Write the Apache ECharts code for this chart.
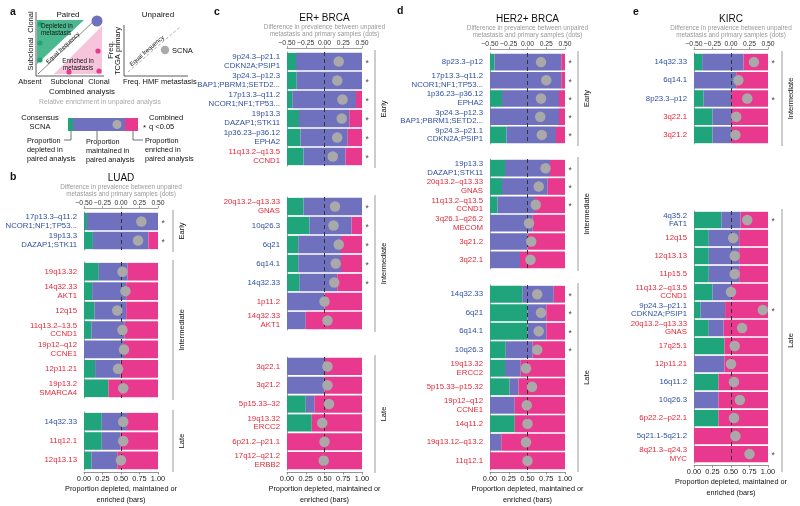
<!DOCTYPE html>
<html><head><meta charset="utf-8">
<script src="https://cdn.jsdelivr.net/npm/echarts@6/dist/echarts.min.js"></script>
<style>html,body{margin:0;padding:0;background:#fff}#c{width:800px;height:506px}</style>
</head><body><div id="c"></div>
<script>
// ---------------- DATA ----------------
const bottomTickLabels = ['0.00','0.25','0.50','0.75','1.00'];
const topTickLabels = ['\u22120.50','\u22120.25','0.00','0.25','0.50'];

// b: LUAD
const luadLabels = ['17p13.3\u2013q11.2\nNCOR1;NF1;TP53...','19p13.3\nDAZAP1;STK11','19q13.32','14q32.33\nAKT1','12q15','11q13.2\u201313.5\nCCND1','19p12\u2013q12\nCCNE1','12p11.21','19p13.2\nSMARCA4','14q32.33','11q12.1','12q13.13'];
const luadColors = ['b','b','r','r','r','r','r','r','r','b','r','r'];
const luadGroups = ['Early','Early','Intermediate','Intermediate','Intermediate','Intermediate','Intermediate','Intermediate','Intermediate','Late','Late','Late'];
const luadDepleted = [0.04,0.12,0.20,0.11,0.14,0.10,0.00,0.15,0.33,0.24,0.24,0.10];
const luadMaintained = [0.96,0.75,0.39,0.46,0.43,0.45,0.54,0.34,0.00,0.34,0.25,0.35];
const luadEnriched = [0.00,0.13,0.41,0.43,0.43,0.45,0.46,0.51,0.67,0.42,0.51,0.55];
const luadDiff = [0.275,0.23,0.02,0.06,-0.05,0.02,0.04,-0.04,0.03,0.03,0.03,0.00];
const luadSig = [1,1,0,0,0,0,0,0,0,0,0,0];

// c: ER+ BRCA
const erLabels = ['9p24.3\u2013p21.1\nCDKN2A;PSIP1','3p24.3\u2013p12.3\nBAP1;PBRM1;SETD2...','17p13.3\u2013q11.2\nNCOR1;NF1;TP53...','19p13.3\nDAZAP1;STK11','1p36.23\u2013p36.12\nEPHA2','11q13.2\u2013q13.5\nCCND1','20q13.2\u2013q13.33\nGNAS','10q26.3','6q21','6q14.1','14q32.33','1p11.2','14q32.33\nAKT1','3q22.1','3q21.2','5p15.33\u201332','19q13.32\nERCC2','6p21.2\u2013p21.1','17q12\u2013q21.2\nERBB2'];
const erColors = ['b','b','b','b','b','r','r','b','b','b','b','r','r','r','r','r','r','r','r'];
const erGroups = ['Early','Early','Early','Early','Early','Early','Intermediate','Intermediate','Intermediate','Intermediate','Intermediate','Intermediate','Intermediate','Late','Late','Late','Late','Late','Late'];
const erDepleted = [0.12,0.13,0.07,0.16,0.18,0.22,0.22,0.30,0.15,0.15,0.17,0.00,0.00,0.00,0.00,0.25,0.33,0.00,0.00];
const erMaintained = [0.88,0.87,0.85,0.67,0.63,0.56,0.78,0.56,0.57,0.57,0.50,0.50,0.25,0.50,0.50,0.12,0.00,0.00,0.00];
const erEnriched = [0.00,0.00,0.08,0.17,0.19,0.22,0.00,0.14,0.28,0.28,0.33,0.50,0.75,0.50,0.50,0.63,0.67,1.00,1.00];
const erDiff = [0.19,0.17,0.24,0.23,0.17,0.11,0.14,0.12,0.19,0.15,0.13,0.00,0.04,0.04,0.04,0.06,-0.03,0.00,-0.01];
const erSig = [1,1,1,1,1,1,1,1,1,1,1,0,0,0,0,0,0,0,0];

// d: HER2+ BRCA
const her2Labels = ['8p23.3\u2013p12','17p13.3\u2013q11.2\nNCOR1;NF1;TP53...','1p36.23\u2013p36.12\nEPHA2','3p24.3\u2013p12.3\nBAP1;PBRM1;SETD2...','9p24.3\u2013p21.1\nCDKN2A;PSIP1','19p13.3\nDAZAP1;STK11','20q13.2\u2013q13.33\nGNAS','11q13.2\u2013q13.5\nCCND1','3q26.1\u2013q26.2\nMECOM','3q21.2','3q22.1','14q32.33','6q21','6q14.1','10q26.3','19q13.32\nERCC2','5p15.33\u2013p15.32','19p12\u2013q12\nCCNE1','14q11.2','19q13.12\u2013q13.2','11q12.1'];
const her2Colors = ['b','b','b','b','b','b','r','r','r','r','r','b','b','b','b','r','r','r','r','r','r'];
const her2Groups = ['Early','Early','Early','Early','Early','Intermediate','Intermediate','Intermediate','Intermediate','Intermediate','Intermediate','Late','Late','Late','Late','Late','Late','Late','Late','Late','Late'];
const her2Depleted = [0.06,0.00,0.16,0.00,0.22,0.20,0.16,0.10,0.00,0.00,0.00,0.43,0.50,0.50,0.21,0.20,0.26,0.00,0.33,0.00,0.00];
const her2Maintained = [0.89,0.95,0.76,0.92,0.66,0.60,0.61,0.50,0.57,0.50,0.40,0.42,0.25,0.25,0.36,0.21,0.12,0.33,0.00,0.15,0.00];
const her2Enriched = [0.05,0.05,0.08,0.08,0.12,0.20,0.23,0.40,0.43,0.50,0.60,0.15,0.25,0.25,0.43,0.59,0.62,0.67,0.67,0.85,1.00];
const her2Diff = [0.18,0.25,0.18,0.17,0.19,0.24,0.15,0.11,0.02,0.05,0.04,0.13,0.18,0.15,0.13,-0.02,0.06,-0.01,0.00,-0.02,0.00];
const her2Sig = [1,1,1,1,1,1,1,1,0,0,0,1,1,1,1,0,0,0,0,0,0];

// e: KIRC
const kircLabels = ['14q32.33','6q14.1','8p23.3\u2013p12','3q22.1','3q21.2','4q35.2\nFAT1','12q15','12q13.13','11p15.5','11q13.2\u2013q13.5\nCCND1','9p24.3\u2013p21.1\nCDKN2A;PSIP1','20q13.2\u2013q13.33\nGNAS','17q25.1','12p11.21','16q11.2','10q26.3','6p22.2\u2013p22.1','5q21.1-5q21.2','8q21.3\u2013q24.3\nMYC'];
const kircColors = ['b','b','b','r','r','b','r','r','r','r','b','r','r','r','b','b','r','b','r'];
const kircGroups = ['Intermediate','Intermediate','Intermediate','Intermediate','Intermediate','Late','Late','Late','Late','Late','Late','Late','Late','Late','Late','Late','Late','Late','Late'];
const kircDepleted = [0.11,0.00,0.13,0.25,0.25,0.37,0.20,0.20,0.20,0.25,0.09,0.20,0.41,0.00,0.33,0.00,0.33,0.00,0.00];
const kircMaintained = [0.56,0.57,0.37,0.25,0.25,0.26,0.41,0.41,0.41,0.26,0.33,0.20,0.00,0.41,0.00,0.33,0.00,0.00,0.00];
const kircEnriched = [0.33,0.43,0.50,0.50,0.50,0.37,0.39,0.39,0.39,0.49,0.58,0.60,0.59,0.59,0.67,0.67,0.67,1.00,1.00];
const kircDiff = [0.31,0.10,0.22,0.07,0.06,0.22,0.03,0.05,0.05,0.00,0.43,0.15,0.05,0.00,0.04,0.12,0.04,0.06,0.25];
const kircSig = [1,0,1,0,0,1,0,0,0,0,1,0,0,0,0,0,0,0,1];

// ---------------- STYLE / LAYOUT ----------------
const FONT = '"Liberation Sans", Arial, sans-serif';
const GREEN = '#20a47b', PURPLE = '#6f70be', PINK = '#e8398f', DOT = '#a9a9a9';
const BLUE = '#2f4f9f', RED = '#e3283a';

const panels = [
  {letter:'b', lx:10, ly:177, title:'LUAD', left:84, width:74, groups:[[212,38],[262,136],[412,58]], bx:173,
   D:{labels:luadLabels, colors:luadColors, groups:luadGroups, dep:luadDepleted, mai:luadMaintained, enr:luadEnriched, diff:luadDiff, sig:luadSig}},
  {letter:'c', lx:214, ly:12, title:'ER+ BRCA', left:287, width:75, groups:[[52,114],[197,133],[357,114]], bx:375,
   D:{labels:erLabels, colors:erColors, groups:erGroups, dep:erDepleted, mai:erMaintained, enr:erEnriched, diff:erDiff, sig:erSig}},
  {letter:'d', lx:397, ly:11, title:'HER2+ BRCA', left:490, width:75, groups:[[53,91],[159,110],[285,185]], bx:578,
   D:{labels:her2Labels, colors:her2Colors, groups:her2Groups, dep:her2Depleted, mai:her2Maintained, enr:her2Enriched, diff:her2Diff, sig:her2Sig}},
  {letter:'e', lx:633, ly:12, title:'KIRC', left:694, width:74, groups:[[53,91],[211,259]], bx:782,
   D:{labels:kircLabels, colors:kircColors, groups:kircGroups, dep:kircDepleted, mai:kircMaintained, enr:kircEnriched, diff:kircDiff, sig:kircSig}}
];

const grids = [], xAxes = [], yAxes = [], series = [], g = [];

function T(x,y,text,o){ o=o||{}; g.push({type:'text', x:x, y:y, rotation:o.rot||0, z:10, silent:true,
  style:{text:text, fill:o.color||'#111', fontSize:o.size||7.5, fontWeight:o.bold?'bold':'normal', fontFamily:FONT,
  align:o.align||'center', verticalAlign:'middle'}}); }
function Ln(x1,y1,x2,y2,o){ o=o||{}; g.push({type:'line', z:5, silent:true, shape:{x1:x1,y1:y1,x2:x2,y2:y2},
  style:{stroke:o.color||'#888', lineWidth:o.w||1, lineDash:o.dash||null}}); }
function Ci(cx,cy,r,fill){ g.push({type:'circle', z:6, silent:true, shape:{cx:cx,cy:cy,r:r}, style:{fill:fill}}); }
function Po(points,fill){ g.push({type:'polygon', z:3, silent:true, shape:{points:points}, style:{fill:fill}}); }
function Re(x,y,w,h,fill){ g.push({type:'rect', z:4, silent:true, shape:{x:x,y:y,width:w,height:h}, style:{fill:fill}}); }

const rich = {
  b:{color:BLUE, fontSize:7.8, lineHeight:8.6, fontFamily:FONT, align:'right'},
  r:{color:RED, fontSize:7.8, lineHeight:8.6, fontFamily:FONT, align:'right'}
};

panels.forEach(function(P){
  const D = P.D;
  const groupNames = [];
  D.groups.forEach(function(x){ if(groupNames.indexOf(x)<0) groupNames.push(x); });
  const cx = P.left + P.width/2;
  const top0 = P.groups[0][0];
  T(P.lx, P.ly, P.letter, {bold:true, size:10.5, align:'left'});
  T(cx, top0-34, P.title, {size:10});
  T(cx, top0-25, 'Difference in prevalence between unpaired', {size:6.4, color:'#9a9a9a'});
  T(cx, top0-17.5, 'metastasis and primary samples (dots)', {size:6.4, color:'#9a9a9a'});
  groupNames.forEach(function(gname, gi){
    const idx = [];
    D.groups.forEach(function(x,i){ if(x===gname) idx.push(i); });
    const top = P.groups[gi][0], h = P.groups[gi][1];
    const gridIndex = grids.length;
    const first = gi===0, last = gi===groupNames.length-1;
    grids.push({left:P.left, top:top, width:P.width, height:h});
    xAxes.push({type:'value', gridIndex:gridIndex, min:0, max:1, interval:0.25, position:'bottom', offset:2,
      axisLine:{show:last, lineStyle:{color:'#777', width:0.8}},
      axisTick:{show:last, length:2.5, lineStyle:{color:'#777', width:0.8}},
      axisLabel:{show:last, fontSize:7.4, color:'#222', margin:3, fontFamily:FONT,
        formatter:function(v){ return bottomTickLabels[Math.round(v*4)]; }},
      splitLine:{show:false},
      name: last ? 'Proportion depleted, maintained or\nenriched (bars)' : '',
      nameLocation:'middle', nameGap:12,
      nameTextStyle:{fontSize:7.3, color:'#111', lineHeight:10.5, fontFamily:FONT, verticalAlign:'top'}
    });
    const bIdx = xAxes.length-1;
    xAxes.push({type:'value', gridIndex:gridIndex, min:-0.5, max:0.5, interval:0.25, position:'top', offset:4, show:first,
      axisLine:{show:true, lineStyle:{color:'#888', width:0.8}},
      axisTick:{show:true, length:2, lineStyle:{color:'#888', width:0.8}},
      axisLabel:{fontSize:6.8, color:'#333', margin:1.5, fontFamily:FONT,
        formatter:function(v){ return topTickLabels[Math.round((v+0.5)*4)]; }},
      splitLine:{show:false}
    });
    const tIdx = xAxes.length-1;
    yAxes.push({type:'category', gridIndex:gridIndex, inverse:true, data:idx.map(function(i){return D.labels[i];}), offset:3,
      axisLine:{lineStyle:{color:'#888', width:0.8}},
      axisTick:{length:2.5, alignWithLabel:true, lineStyle:{color:'#888', width:0.8}},
      axisLabel:{margin:4, interval:0, formatter:function(v,k){
        const c = D.colors[idx[k]];
        return v.split('\n').map(function(s){ return '{'+c+'|'+s+'}'; }).join('\n');
      }, rich:rich}
    });
    const yIdx = yAxes.length-1;
    const stack = P.letter+'-'+gi;
    const common = {type:'bar', stack:stack, xAxisIndex:bIdx, yAxisIndex:yIdx, barCategoryGap:'9%', silent:true, animation:false};
    series.push(Object.assign({}, common, {name:'dep', data:idx.map(function(i){return D.dep[i];}), itemStyle:{color:GREEN}}));
    series.push(Object.assign({}, common, {name:'mai', data:idx.map(function(i){return D.mai[i];}), itemStyle:{color:PURPLE},
      markLine:{silent:true, symbol:'none', label:{show:false}, z:3,
        lineStyle:{type:[4,3], color:'#333', width:1}, data:[{xAxis:0.5}]}}));
    series.push(Object.assign({}, common, {name:'enr', data:idx.map(function(i){return D.enr[i];}), itemStyle:{color:PINK}}));
    series.push({type:'scatter', xAxisIndex:tIdx, yAxisIndex:yIdx, symbolSize:10.5, z:6, silent:true, animation:false,
      itemStyle:{color:DOT, opacity:1},
      data:idx.map(function(i,k){ return [D.diff[i], k]; })});
    const stars = [];
    idx.forEach(function(i,k){ if(D.sig[i]) stars.push([1,k]); });
    series.push({type:'scatter', xAxisIndex:bIdx, yAxisIndex:yIdx, symbolSize:1, z:6, silent:true, animation:false,
      itemStyle:{color:'rgba(0,0,0,0)'},
      label:{show:true, position:'right', distance:3, formatter:'*', fontSize:8.5, color:'#111', fontFamily:FONT, offset:[0,2]},
      data:stars});
    // bracket + group label
    Ln(P.bx, top-2, P.bx, top+h+2, {color:'#9a9a9a', w:1});
    T(P.bx+9, top+h/2, gname, {rot:Math.PI/2, size:7.5});
  });
});

// ---------------- PANEL a (schematic) ----------------
T(10, 12, 'a', {bold:true, size:10.5, align:'left'});
Po([[37,20],[84,20],[37,64]], '#4cb890');
Po([[54,74],[102,26],[102,74]], '#f6c4db');
Ln(38,74,94,21, {color:'#555', w:0.7});
Ln(36,12,36,76, {color:'#333', w:0.8});
Ln(36,76,104,76, {color:'#333', w:0.8});
Ci(97,21,5.5, PURPLE);
Ci(40,24,2.6, GREEN); Ci(40,43,2.6, GREEN); Ci(40,60,2.6, GREEN);
Ci(98,51,2.6, PINK); Ci(99,71,2.6, PINK); Ci(69,72,2.6, PINK);
T(68,15,'Paired',{size:8});
T(41,26,'Depleted in',{size:6.3, align:'left'});
T(41,33,'metastasis',{size:6.3, align:'left'});
T(63,48,'Equal frequency',{size:6, rot:0.75});
T(78,61,'Enriched in',{size:6.3});
T(78,68,'metastasis',{size:6.3});
T(31,22,'Clonal',{rot:Math.PI/2, size:7.5});
T(31,54,'Subclonal',{rot:Math.PI/2, size:7.5});
T(30,82,'Absent',{size:7.5});
T(67,82,'Subclonal',{size:7.5});
T(99,82,'Clonal',{size:7.5});
T(82,92,'Combined analysis',{size:7.8});
T(158,15,'Unpaired',{size:8});
Ln(124,25,124,76, {color:'#333', w:0.8});
Ln(124,76,188,76, {color:'#333', w:0.8});
Ln(128,72,180,27, {color:'#999', w:0.8, dash:[3,2]});
T(147,51,'Equal frequency',{size:6, rot:0.72});
T(111,50,'Freq.',{rot:Math.PI/2, size:7.5});
T(118,51,'TCGA primary',{rot:Math.PI/2, size:7.5});
T(123,82,'Freq. HMF metastasis',{size:7.5, align:'left'});
Ci(165,50,4.2,'#aaa');
T(172,51,'SCNA',{size:7.5, align:'left'});
T(100,102,'Relative enrichment in unpaired analysis',{size:6.8, color:'#aaa'});
Re(68,118,5,13,GREEN); Re(73,118,52,13,PURPLE); Re(125,118,13,13,PINK);
Ci(117,124.5,4.5,'#aaa');
T(40,118,'Consensus',{size:7.5}); T(40,127,'SCNA',{size:7.5});
T(149,118,'Combined',{size:7.5, align:'left'});
T(143,127.5,'*',{size:8, align:'left'});
T(149,127,'q <0.05',{size:7.5, align:'left'});
Ln(71,131,71,140,{color:'#333',w:0.7}); Ln(64,140,71,140,{color:'#333',w:0.7});
Ln(97,131,97,140,{color:'#333',w:0.7});
Ln(133,131,133,140,{color:'#333',w:0.7}); Ln(133,140,143,140,{color:'#333',w:0.7});
T(27,141,'Proportion',{size:7.3, align:'left'});
T(27,150,'depleted in',{size:7.3, align:'left'});
T(27,159,'paired analysis',{size:7.3, align:'left'});
T(86,142,'Proportion',{size:7.3, align:'left'});
T(86,151,'maintained in',{size:7.3, align:'left'});
T(86,160,'paired analysis',{size:7.3, align:'left'});
T(145,141,'Proportion',{size:7.3, align:'left'});
T(145,150,'enriched in',{size:7.3, align:'left'});
T(145,159,'paired analysis',{size:7.3, align:'left'});

const chart = echarts.init(document.getElementById('c'), null, {renderer:'canvas'});
chart.setOption({
  animation:false,
  backgroundColor:'#fff',
  textStyle:{fontFamily:FONT},
  grid:grids, xAxis:xAxes, yAxis:yAxes, series:series, graphic:g
});
</script>
</body></html>
